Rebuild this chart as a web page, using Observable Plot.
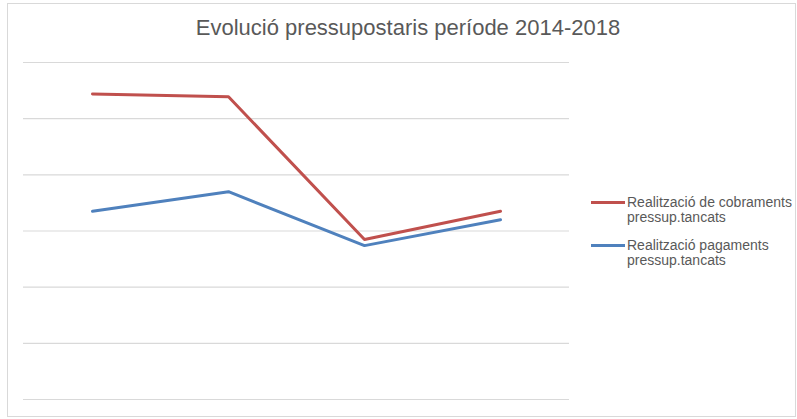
<!DOCTYPE html>
<html>
<head>
<meta charset="utf-8">
<script src="https://cdn.jsdelivr.net/npm/d3@7"></script>
<script src="https://cdn.jsdelivr.net/npm/@observablehq/plot@0.6"></script>
<style>
  html, body { margin: 0; padding: 0; background: #fff; }
  #wrap { position: relative; width: 797px; height: 419px; overflow: hidden; font-family: "Liberation Sans", Arial, sans-serif; }
  #frame { position: absolute; left: 7px; top: 3px; width: 789px; height: 414px; border: 1px solid #d9d9d9; box-sizing: border-box; }
  #title { position: absolute; left: 0; top: 15px; width: 816px; text-align: center; font-size: 22px; line-height: 25px; color: #595959; white-space: nowrap; }
  #chart { position: absolute; left: 0; top: 0; }
  .leg { position: absolute; left: 591px; font-size: 14px; color: #595959; line-height: 15px; }
  .leg .sw { position: absolute; left: 0; top: 6px; width: 34px; height: 3px; }
  .leg .tx { position: absolute; left: 36px; top: 0; white-space: nowrap; }
</style>
</head>
<body>
<div id="wrap">
  <div id="frame"></div>
  <div id="chart"></div>
  <div id="title"></div>
  <div id="legend"></div>
</div>
<script>
const title = "Evolució pressupostaris període 2014-2018";
const categories = ["2015", "2016", "2017", "2018"];
const seriesNames = ["Realització de cobraments pressup.tancats", "Realització pagaments pressup.tancats"];
const legendLines = [["Realització de cobraments", "pressup.tancats"], ["Realització pagaments", "pressup.tancats"]];
const cobraments = [5.44, 5.39, 2.85, 3.35];
const pagaments = [3.35, 3.70, 2.74, 3.20];
const yTicks = [0, 1, 2, 3, 4, 5, 6];
const colors = ["#c0504d", "#4f81bd"];

const rows = [];
categories.forEach((c, i) => {
  rows.push({cat: c, value: cobraments[i], series: seriesNames[0]});
});
categories.forEach((c, i) => {
  rows.push({cat: c, value: pagaments[i], series: seriesNames[1]});
});

const chart = Plot.plot({
  width: 797,
  height: 419,
  marginLeft: 23,
  marginRight: 228,
  marginTop: 62,
  marginBottom: 20,
  x: {type: "point", domain: categories, padding: 0.5, axis: null},
  y: {domain: [0, 6], axis: null},
  color: {domain: seriesNames, range: colors},
  style: {background: "transparent"},
  marks: [
    Plot.ruleY(yTicks, {stroke: "#d9d9d9", strokeWidth: 1.2}),
    Plot.line(rows, {x: "cat", y: "value", z: "series", stroke: "series", strokeWidth: 3, strokeLinejoin: "round", strokeLinecap: "round"})
  ]
});
document.getElementById("chart").appendChild(chart);
document.getElementById("title").textContent = title;

const legend = document.getElementById("legend");
const legTops = [195, 238];
legendLines.forEach((lines, i) => {
  const d = document.createElement("div");
  d.className = "leg";
  d.style.top = legTops[i] + "px";
  const sw = document.createElement("div");
  sw.className = "sw";
  sw.style.background = colors[i];
  const tx = document.createElement("div");
  tx.className = "tx";
  tx.innerHTML = lines.join("<br>");
  d.appendChild(sw);
  d.appendChild(tx);
  legend.appendChild(d);
});
</script>
</body>
</html>
